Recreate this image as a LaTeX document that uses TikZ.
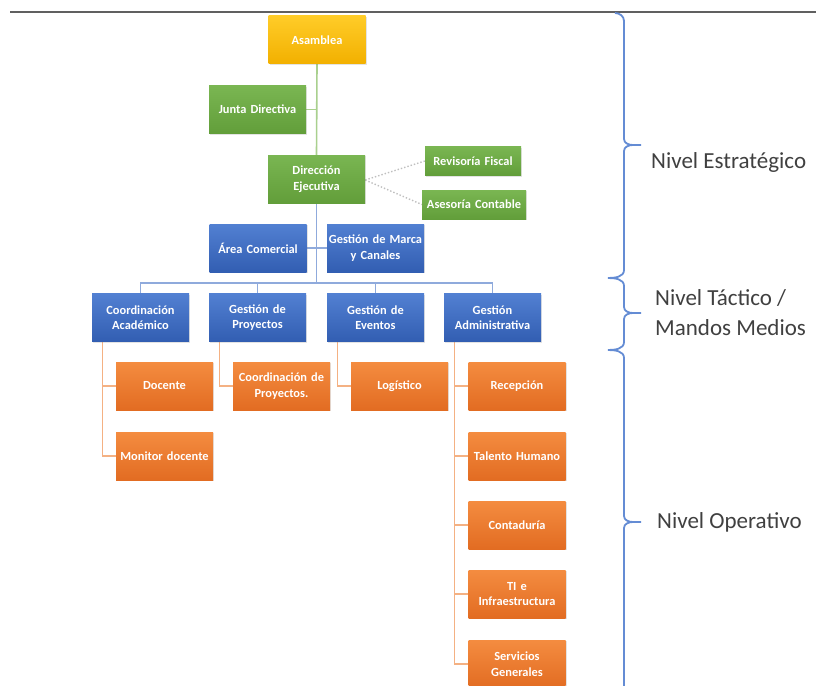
\documentclass[tikz,border=0pt]{standalone}
\usepackage{fontspec}
\setmainfont{Carlito}
\usetikzlibrary{shadows,backgrounds}
\definecolor{goldT}{RGB}{255,204,40}
\definecolor{goldB}{RGB}{242,176,0}
\definecolor{grnT}{RGB}{122,182,82}
\definecolor{grnB}{RGB}{98,158,58}
\definecolor{bluT}{RGB}{82,128,210}
\definecolor{bluB}{RGB}{50,94,178}
\definecolor{orgT}{RGB}{244,140,64}
\definecolor{orgB}{RGB}{226,108,34}
\definecolor{grnLine}{RGB}{169,208,142}
\definecolor{bluLine}{RGB}{143,170,220}
\definecolor{orgLine}{RGB}{244,177,131}
\definecolor{brk}{RGB}{100,140,212}
\definecolor{lbl}{RGB}{64,64,64}
\begin{document}
\begin{tikzpicture}[x=1pt,y=-1pt,
  box/.style={minimum width=97pt, minimum height=48pt, text width=97pt, align=center,
    inner sep=0pt, text=white, font=\bfseries\fontsize{12.4}{15.5}\selectfont,
    drop shadow={opacity=0.22, shadow xshift=1.2pt, shadow yshift=-1.2pt}},
  ybox/.style={box, top color=goldT, bottom color=goldB},
  gbox/.style={box, top color=grnT, bottom color=grnB},
  bbox/.style={box, top color=bluT, bottom color=bluB},
  obox/.style={box, top color=orgT, bottom color=orgB},
  gl/.style={draw=grnLine, line width=1.6pt},
  bl/.style={draw=bluLine, line width=1.6pt},
  ol/.style={draw=orgLine, line width=1.6pt},
  dl/.style={draw=gray!50, line width=1.4pt, dotted},
  br/.style={draw=brk, line width=1.8pt},
  lab/.style={anchor=west, text=lbl, font=\fontsize{23}{30}\selectfont, align=left, inner sep=0pt}
]
\useasboundingbox (0,0) rectangle (816,685);
\draw[gray!75!black, line width=1.2pt] (10,12) -- (816,12);

% nodes
\node[ybox] (asam) at (317,40) {Asamblea};
\node[gbox] (jd) at (257.5,109.5) {Junta Directiva};
\node[gbox] (dir) at (316.5,179) {Dirección\\Ejecutiva};
\node[gbox, minimum width=96pt, minimum height=29pt, text width=96pt] (rf) at (473,161) {Revisoría Fiscal};
\node[gbox, minimum width=104pt, minimum height=29pt, text width=104pt] (asc) at (474,204.5) {Asesoría Contable};
\node[bbox] (ac) at (258,248) {Área Comercial};
\node[bbox] (gm) at (375.5,248) {Gestión de Marca\\y Canales};

\node[bbox] (ca) at (140.5,317.5) {Coordinación\\Académico};
\node[bbox] (gp) at (257.5,317.5) {Gestión de\\Proyectos};
\node[bbox] (ge) at (375.5,317.5) {Gestión de\\Eventos};
\node[bbox] (ga) at (492.5,317.5) {Gestión\\Administrativa};

\node[obox] (doc) at (164.5,386) {Docente};
\node[obox] (mon) at (164.5,456) {Monitor docente};
\node[obox] (cp) at (281.5,386) {Coordinación de\\Proyectos.};
\node[obox] (log) at (399.5,386) {Logístico};
\node[obox] (rec) at (517,386) {Recepción};
\node[obox] (th) at (517,456) {Talento Humano};
\node[obox] (con) at (517,525) {Contaduría};
\node[obox] (ti) at (517,594) {TI e\\Infraestructura};
\node[obox] (sg) at (517,664) {Servicios\\Generales};

\coordinate (bar) at (316.5,283);
\coordinate (dirR) at ([yshift=-1pt]dir.east);

% connectors
\begin{scope}[on background layer]
  \draw[gl] (asam.south) -- (dir.north);
  \draw[gl] (jd.east) -- (jd.east -| asam.south);
  \draw[dl] (dirR) -- (rf.west);
  \draw[dl] (dirR) -- (asc.west);
  \draw[bl] (dir.south) -- (bar);
  \draw[bl] (ac.east) -- (gm.west);
  \foreach \n in {ca,gp,ge,ga} \draw[bl] (bar) -| (\n.north);
  \draw[ol] ([xshift=10.5pt]ca.south west) |- (doc.west);
  \draw[ol] ([xshift=10.5pt]ca.south west) |- (mon.west);
  \draw[ol] ([xshift=10.5pt]gp.south west) |- (cp.west);
  \draw[ol] ([xshift=10.5pt]ge.south west) |- (log.west);
  \foreach \n in {rec,th,con,ti,sg} \draw[ol] ([xshift=10.5pt]ga.south west) |- (\n.west);
\end{scope}

% labels
\node[lab] (l1) at (651,162) {Nivel Estratégico};
\node[lab] (l2) at (655,313) {Nivel Táctico /\\Mandos Medios};
\node[lab] (l3) at (657,522) {Nivel Operativo};

% brackets
\draw[br] (615,13) to[out=0,in=90] (624,21) -- (624,139) to[out=-90,in=180] (633,145) -- (641,145);
\draw[br] (633,145) to[out=180,in=90] (624,151) -- (624,270) to[out=-90,in=0] (608,278);
\draw[br] (608,278) to[out=0,in=90] (624,286) -- (624,307) to[out=-90,in=180] (633,313) -- (641,313);
\draw[br] (633,313) to[out=180,in=90] (624,319) -- (624,342) to[out=-90,in=0] (608,350);
\draw[br] (608,350) to[out=0,in=90] (624,358) -- (624,516) to[out=-90,in=180] (633,522) -- (641,522);
\draw[br] (633,522) to[out=180,in=90] (624,528) -- (624,690);
\end{tikzpicture}
\end{document}
